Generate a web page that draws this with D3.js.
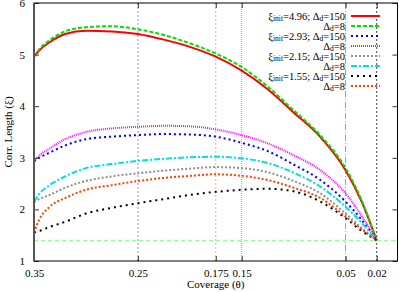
<!DOCTYPE html>
<html>
<head>
<meta charset="utf-8">
<script src="https://cdn.jsdelivr.net/npm/d3@7"></script>
<style>
  body { margin: 0; background: #fff; }
  svg, svg text { font-family: "Liberation Serif", "Times New Roman", "DejaVu Serif", serif !important; }
</style>
</head>
<body>
<div id="chart"></div>
<script>
// coverage values where the curves were read
const coverage = [0.35, 0.345, 0.335, 0.32, 0.30, 0.275, 0.25, 0.225, 0.20, 0.175, 0.15, 0.125, 0.10, 0.075, 0.05, 0.035, 0.02];

const xi496d150 = [4.96, 5.08, 5.24, 5.40, 5.46, 5.45, 5.40, 5.29, 5.15, 4.96, 4.69, 4.33, 3.88, 3.42, 2.76, 2.17, 1.40];
const xi496d8   = [4.96, 5.10, 5.28, 5.45, 5.53, 5.55, 5.49, 5.38, 5.22, 5.02, 4.76, 4.38, 3.92, 3.45, 2.80, 2.20, 1.40];
const xi293d150 = [2.93, 3.00, 3.10, 3.24, 3.36, 3.41, 3.44, 3.46, 3.45, 3.41, 3.29, 3.13, 2.87, 2.58, 2.15, 1.81, 1.40];
const xi293d8   = [2.93, 3.04, 3.18, 3.36, 3.50, 3.57, 3.60, 3.62, 3.61, 3.55, 3.44, 3.28, 3.05, 2.77, 2.31, 1.89, 1.40];
const xi215d150 = [2.15, 2.20, 2.28, 2.42, 2.55, 2.64, 2.70, 2.75, 2.79, 2.82, 2.80, 2.72, 2.55, 2.32, 1.92, 1.65, 1.40];
const xi215d8   = [2.15, 2.30, 2.47, 2.64, 2.80, 2.88, 2.94, 2.98, 3.01, 3.02, 2.99, 2.90, 2.71, 2.45, 2.05, 1.75, 1.40];
const xi155d150 = [1.55, 1.58, 1.66, 1.76, 1.92, 2.03, 2.12, 2.20, 2.28, 2.34, 2.38, 2.40, 2.35, 2.16, 1.83, 1.59, 1.40];
const xi155d8   = [1.55, 1.80, 2.05, 2.22, 2.38, 2.47, 2.55, 2.61, 2.65, 2.68, 2.65, 2.57, 2.42, 2.23, 1.86, 1.62, 1.40];

const xTicks = [0.35, 0.25, 0.175, 0.15, 0.05, 0.02];
const yTicks = [1, 2, 3, 4, 5, 6];
const refLevel = 1.4;

const series = [
  { xi: "4.96", d: "150", values: xi496d150, color: "#ff0000", width: 2,   dash: null },
  { xi: null,   d: "8",   values: xi496d8,   color: "#00e000", width: 2,   dash: "4,2" },
  { xi: "2.93", d: "150", values: xi293d150, color: "#0000ff", width: 2,   dash: "2,3" },
  { xi: null,   d: "8",   values: xi293d8,   color: "#ff00ff", width: 2,   dash: "1,1" },
  { xi: "2.15", d: "150", values: xi215d150, color: "#909090", width: 2,   dash: "2,2" },
  { xi: null,   d: "8",   values: xi215d8,   color: "#00e0e0", width: 2,   dash: "6,2,2,2" },
  { xi: "1.55", d: "150", values: xi155d150, color: "#000000", width: 2,   dash: "2,4" },
  { xi: null,   d: "8",   values: xi155d8,   color: "#ff4000", width: 2,   dash: "2,2" }
];

// vertical guide lines at the labelled coverages
const guides = [
  { at: 0.25,  color: "#a0a0ff", dash: "2,2", width: 1.2 },
  { at: 0.175, color: "#ffa880", dash: "2,2", width: 1 },
  { at: 0.15,  color: "#ff60ff", dash: "1,1", width: 1 },
  { at: 0.05,  color: "#00e0e0", dash: "6,2,1,2", width: 1 },
  { at: 0.02,  color: "#404040", dash: "2,2", width: 1 }
];

const width = 399, height = 292;
const margin = { top: 3, right: 1.5, bottom: 31, left: 34 };

const svg = d3.select("#chart").append("svg")
  .attr("width", width)
  .attr("height", height)
  .style("font-family", "'Liberation Serif', 'Times New Roman', serif");

const x = d3.scaleLinear()
  .domain([0.35, 0])
  .range([margin.left, width - margin.right]);

const y = d3.scaleLinear()
  .domain([1, 6])
  .range([height - margin.bottom, margin.top]);

// guides
svg.append("g").selectAll("line")
  .data(guides)
  .join("line")
  .attr("x1", d => x(d.at)).attr("x2", d => x(d.at))
  .attr("y1", y(6)).attr("y2", y(1))
  .attr("stroke", d => d.color)
  .attr("stroke-width", d => d.width)
  .attr("stroke-dasharray", d => d.dash);

svg.append("line")
  .attr("x1", x(0.35)).attr("x2", x(0))
  .attr("y1", y(refLevel)).attr("y2", y(refLevel))
  .attr("stroke", "#80ff80")
  .attr("stroke-dasharray", "4,3");

// curves
const line = d3.line()
  .x((d, i) => x(coverage[i]))
  .y(d => y(d))
  .curve(d3.curveMonotoneX);

svg.append("g").selectAll("path")
  .data(series)
  .join("path")
  .attr("d", d => line(d.values))
  .attr("fill", "none")
  .attr("stroke", d => d.color)
  .attr("stroke-width", d => d.width)
  .attr("stroke-dasharray", d => d.dash);

// axes (ticks pointing inward, mirrored)
const xAxis = g => g.attr("transform", `translate(0,${y(1)})`)
  .call(d3.axisBottom(x).tickValues(xTicks).tickSizeInner(-5).tickSizeOuter(0).tickPadding(8).tickFormat(d3.format("")))
  .call(g => g.select(".domain").remove());
const xAxisTop = g => g.attr("transform", `translate(0,${y(6)})`)
  .call(d3.axisTop(x).tickValues(xTicks).tickSizeInner(-5).tickSizeOuter(0).tickFormat(""))
  .call(g => g.select(".domain").remove());
const yAxis = g => g.attr("transform", `translate(${x(0.35)},0)`)
  .call(d3.axisLeft(y).tickValues(yTicks).tickSizeInner(-5).tickSizeOuter(0).tickPadding(9).tickFormat(d3.format("d")))
  .call(g => g.select(".domain").remove());
const yAxisRight = g => g.attr("transform", `translate(${x(0)},0)`)
  .call(d3.axisRight(y).tickValues(yTicks).tickSizeInner(-5).tickSizeOuter(0).tickFormat(""))
  .call(g => g.select(".domain").remove());

[xAxis, xAxisTop, yAxis, yAxisRight].forEach(a => {
  svg.append("g").call(a)
    .attr("font-size", "11px")
    .attr("font-family", null)
    .call(g => g.selectAll("text").attr("fill", "#000"))
    .call(g => g.selectAll("line").attr("stroke", "#333"));
});

// frame
svg.append("rect")
  .attr("x", x(0.35)).attr("y", y(6))
  .attr("width", x(0) - x(0.35)).attr("height", y(1) - y(6))
  .attr("fill", "none").attr("stroke", "#000").attr("stroke-width", 1);
svg.append("line")
  .attr("x1", x(0.35)).attr("x2", x(0.35))
  .attr("y1", y(6)).attr("y2", y(1))
  .attr("stroke", "#555").attr("stroke-width", 2);

// axis labels
svg.append("text")
  .attr("x", (x(0.35) + x(0)) / 2).attr("y", 288)
  .attr("text-anchor", "middle")
  .attr("font-size", "11px")
  .text("Coverage (θ)");

svg.append("text")
  .attr("transform", `translate(12,${(y(1) + y(6)) / 2}) rotate(-90)`)
  .attr("text-anchor", "middle")
  .attr("font-size", "11px")
  .text("Corr. Length (ξ)");

// legend
const legend = svg.append("g");
const rowH = 10, legTop = 16, textRight = 345, lineX0 = 351, lineX1 = 380;

series.forEach((s, i) => {
  const yy = legTop + i * rowH;
  const t = legend.append("text")
    .attr("x", textRight).attr("y", yy + 3.5)
    .attr("text-anchor", "end")
    .attr("font-size", "10.5px");
  if (s.xi) {
    t.append("tspan").text("ξ");
    t.append("tspan").attr("font-size", "7.5px").attr("dy", 1.5).text("init");
    t.append("tspan").attr("dy", -1.5).text(`=${s.xi}; Δ`);
  } else {
    t.append("tspan").text("Δ");
  }
  t.append("tspan").attr("font-size", "7.5px").attr("dy", 1.5).text("d");
  t.append("tspan").attr("dy", -1.5).text(`=${s.d}`);

  legend.append("line")
    .attr("x1", lineX0).attr("x2", lineX1)
    .attr("y1", yy).attr("y2", yy)
    .attr("stroke", s.color)
    .attr("stroke-width", s.width)
    .attr("stroke-dasharray", s.dash);
});
</script>
</body>
</html>
